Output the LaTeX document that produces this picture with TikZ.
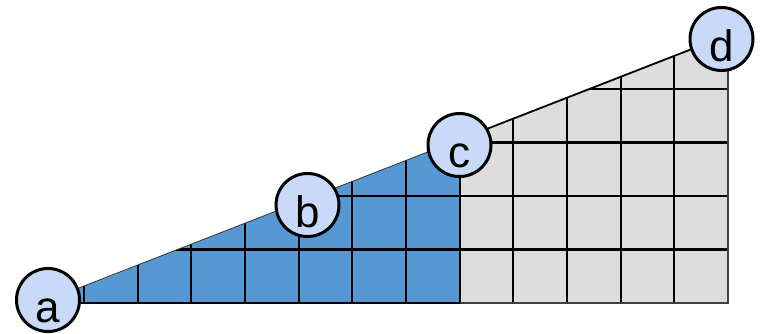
\documentclass[tikz,border=0pt]{standalone}
\usepackage{fontspec}
\setmainfont{Liberation Sans}
\definecolor{bluefill}{RGB}{86,152,212}
\definecolor{grayfill}{RGB}{221,221,221}
\definecolor{nodefill}{RGB}{201,218,248}
\begin{document}
\begin{tikzpicture}[x=1pt,y=1pt,
  vertex/.style={circle,draw=black,line width=3pt,fill=nodefill,minimum size=63pt,inner sep=0pt},
  lbl/.style={anchor=base,inner sep=0pt,font=\fontsize{44}{44}\selectfont},
  gridline/.style={line width=2.2pt,black}]
\useasboundingbox (0,0) rectangle (761,333);
\coordinate (A) at (48,33);
\coordinate (D) at (721.5,295.5);
\coordinate (S) at (459.5,193.4);
\coordinate (E) at (728,298);
\coordinate (BR) at (728,30);
\coordinate (BM) at (459.5,30);
\coordinate (BL) at (40,30);
\fill[bluefill] (BL) -- (A) -- (S) -- (BM) -- cycle;
\fill[grayfill] (BM) -- (S) -- (E) -- (BR) -- cycle;
\begin{scope}
  \clip (BL) -- (A) -- (E) -- (BR) -- cycle;
  \foreach \i in {0,...,12} \draw[gridline] ({84+\i*53.667},0) -- ++(0,340);
  \foreach \j in {1,...,4} \draw[gridline] (0,{30+\j*53.5}) -- ++(800,0);
\end{scope}
\draw[line width=0.8pt,black!80] (A) -- (S);
\draw[line width=1.8pt,black] (S) -- (D);
\draw[line width=2.4pt,black] (A |- BL) -- (BM);
\draw[line width=2pt,black!75] (BM) -- (BR) -- (E);
\path (48,33) coordinate (pa) (307.5,128) coordinate (pb) (459.5,188) coordinate (pc) (721.5,294) coordinate (pd);
\node[vertex] (a) at (pa) {};
\node[vertex] (b) at (pb) {};
\node[vertex] (c) at (pc) {};
\node[vertex] (d) at (pd) {};
\node[lbl] (la) at ([yshift=-22pt]a.center) {a};
\node[lbl] (lb) at ([yshift=-22pt]b.center) {b};
\node[lbl] (lc) at ([yshift=-22pt]c.center) {c};
\node[lbl] (ld) at ([yshift=-22pt]d.center) {d};
\end{tikzpicture}
\end{document}
